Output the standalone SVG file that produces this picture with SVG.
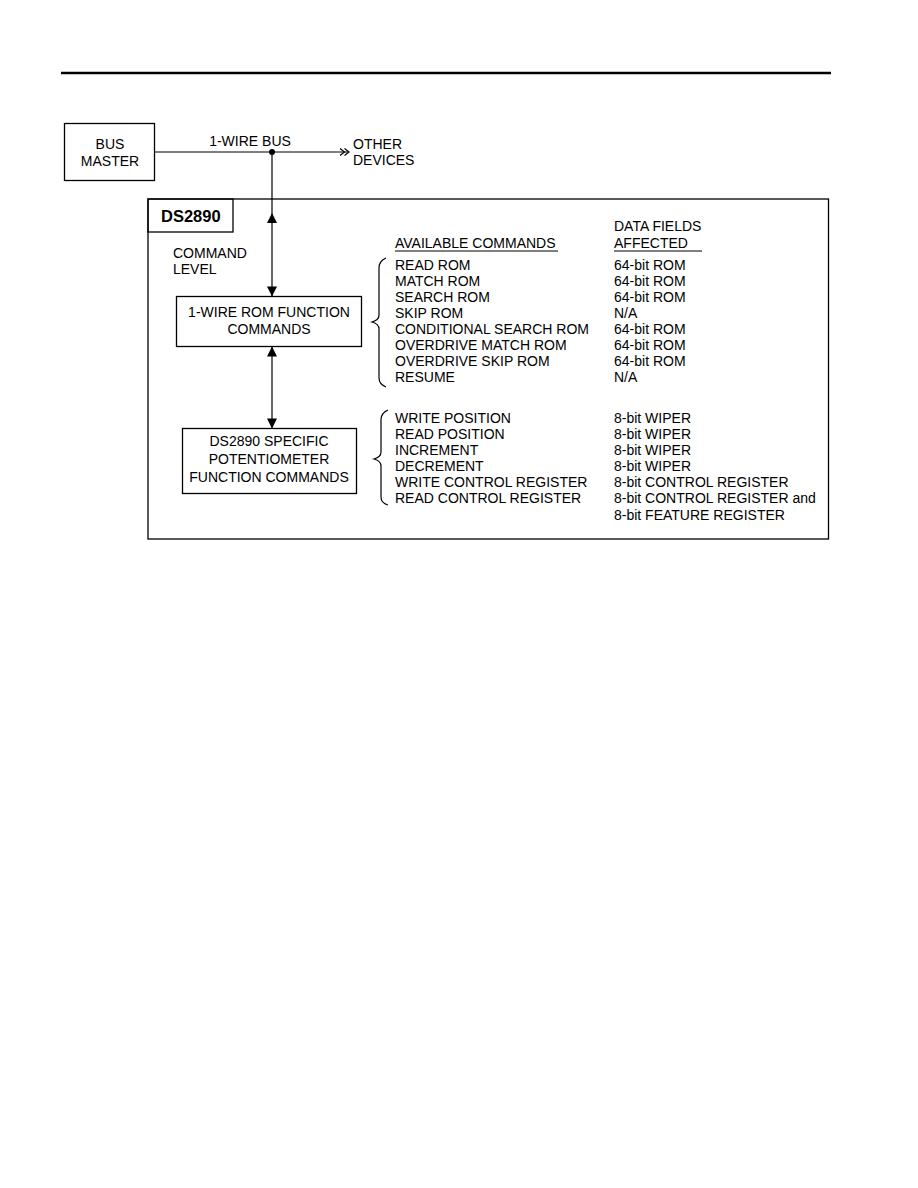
<svg xmlns="http://www.w3.org/2000/svg" width="918" height="1188" viewBox="0 0 918 1188">
<defs>
<style>
text{font-family:"Liberation Sans",Arial,sans-serif;font-size:14px;fill:#000}
.c{text-anchor:middle}
.b{font-weight:bold;font-size:16.5px}
.box{fill:none;stroke:#000;stroke-width:1.3}
.ln{fill:none;stroke:#000;stroke-width:1.2}
.ul{stroke:#000;stroke-width:1}
.ah{fill:#000;stroke:none}
</style>
</defs>
<rect width="918" height="1188" fill="#fff"/>
<line x1="61" y1="73" x2="831" y2="73" stroke="#000" stroke-width="2.5"/>

<g id="bus-master">
<rect class="box" x="64.5" y="123.5" width="90" height="57"/>
<text class="c" x="110" y="149">BUS</text>
<text class="c" x="110" y="166">MASTER</text>
</g>

<g id="other-devices">
<text x="353" y="149">OTHER</text>
<text x="353" y="165">DEVICES</text>
</g>

<g id="ds2890">
<rect class="box" x="148" y="199" width="680.5" height="340"/>
<rect class="box" x="148" y="199" width="85" height="33"/>
<text class="b" x="161" y="222">DS2890</text>
<text x="173" y="258">COMMAND</text>
<text x="173" y="274">LEVEL</text>
</g>

<g id="rom-commands">
<rect class="box" x="176.5" y="296.5" width="185" height="50"/>
<text class="c" x="269" y="317">1-WIRE ROM FUNCTION</text>
<text class="c" x="269" y="334">COMMANDS</text>
</g>

<g id="specific-commands">
<rect class="box" x="182.5" y="428.5" width="174" height="65"/>
<text class="c" x="269" y="446">DS2890 SPECIFIC</text>
<text class="c" x="269" y="464">POTENTIOMETER</text>
<text class="c" x="269" y="482">FUNCTION COMMANDS</text>
</g>

<g id="connectors">
<line class="ln" x1="155" y1="152" x2="348" y2="152"/>
<polyline class="ln" points="340,148.5 344.5,152 340,155.5"/>
<polyline class="ln" points="344.5,148.5 349,152 344.5,155.5"/>
<text class="c" x="250" y="146">1-WIRE BUS</text>
<circle cx="272" cy="152" r="3" fill="#000"/>
<line class="ln" x1="272" y1="152" x2="272" y2="296"/>
<polygon class="ah" points="272,213 267,223 277,223"/>
<polygon class="ah" points="272,296.5 267,286.5 277,286.5"/>
<line class="ln" x1="272" y1="346.5" x2="272" y2="428"/>
<polygon class="ah" points="272,346.5 267,356.5 277,356.5"/>
<polygon class="ah" points="272,428.5 267,418.5 277,418.5"/>
<path class="ln" d="M386,258 Q379,261 379,268 L379,315 Q379,320 372,322 Q379,324 379,329 L379,378 Q379,384 386,387"/>
<path class="ln" d="M388,410 Q381,413 381,420 L381,452 Q381,457 374,459 Q381,461 381,466 L381,497 Q381,503 388,505"/>
</g>

<g id="command-table">
<text x="395" y="248">AVAILABLE COMMANDS</text>
<line class="ul" x1="395" y1="251" x2="558" y2="251"/>
<text x="614" y="231">DATA FIELDS</text>
<text x="614" y="248">AFFECTED</text>
<line class="ul" x1="614" y1="251" x2="702" y2="251"/>
<text x="395" y="270">READ ROM</text><text x="614" y="270">64-bit ROM</text>
<text x="395" y="286">MATCH ROM</text><text x="614" y="286">64-bit ROM</text>
<text x="395" y="302">SEARCH ROM</text><text x="614" y="302">64-bit ROM</text>
<text x="395" y="318">SKIP ROM</text><text x="614" y="318">N/A</text>
<text x="395" y="334">CONDITIONAL SEARCH ROM</text><text x="614" y="334">64-bit ROM</text>
<text x="395" y="350">OVERDRIVE MATCH ROM</text><text x="614" y="350">64-bit ROM</text>
<text x="395" y="366">OVERDRIVE SKIP ROM</text><text x="614" y="366">64-bit ROM</text>
<text x="395" y="382">RESUME</text><text x="614" y="382">N/A</text>
<text x="395" y="423">WRITE POSITION</text><text x="614" y="423">8-bit WIPER</text>
<text x="395" y="439">READ POSITION</text><text x="614" y="439">8-bit WIPER</text>
<text x="395" y="455">INCREMENT</text><text x="614" y="455">8-bit WIPER</text>
<text x="395" y="471">DECREMENT</text><text x="614" y="471">8-bit WIPER</text>
<text x="395" y="487">WRITE CONTROL REGISTER</text><text x="614" y="487">8-bit CONTROL REGISTER</text>
<text x="395" y="503">READ CONTROL REGISTER</text><text x="614" y="503">8-bit CONTROL REGISTER and</text>
<text x="614" y="520">8-bit FEATURE REGISTER</text>
</g>
</svg>
